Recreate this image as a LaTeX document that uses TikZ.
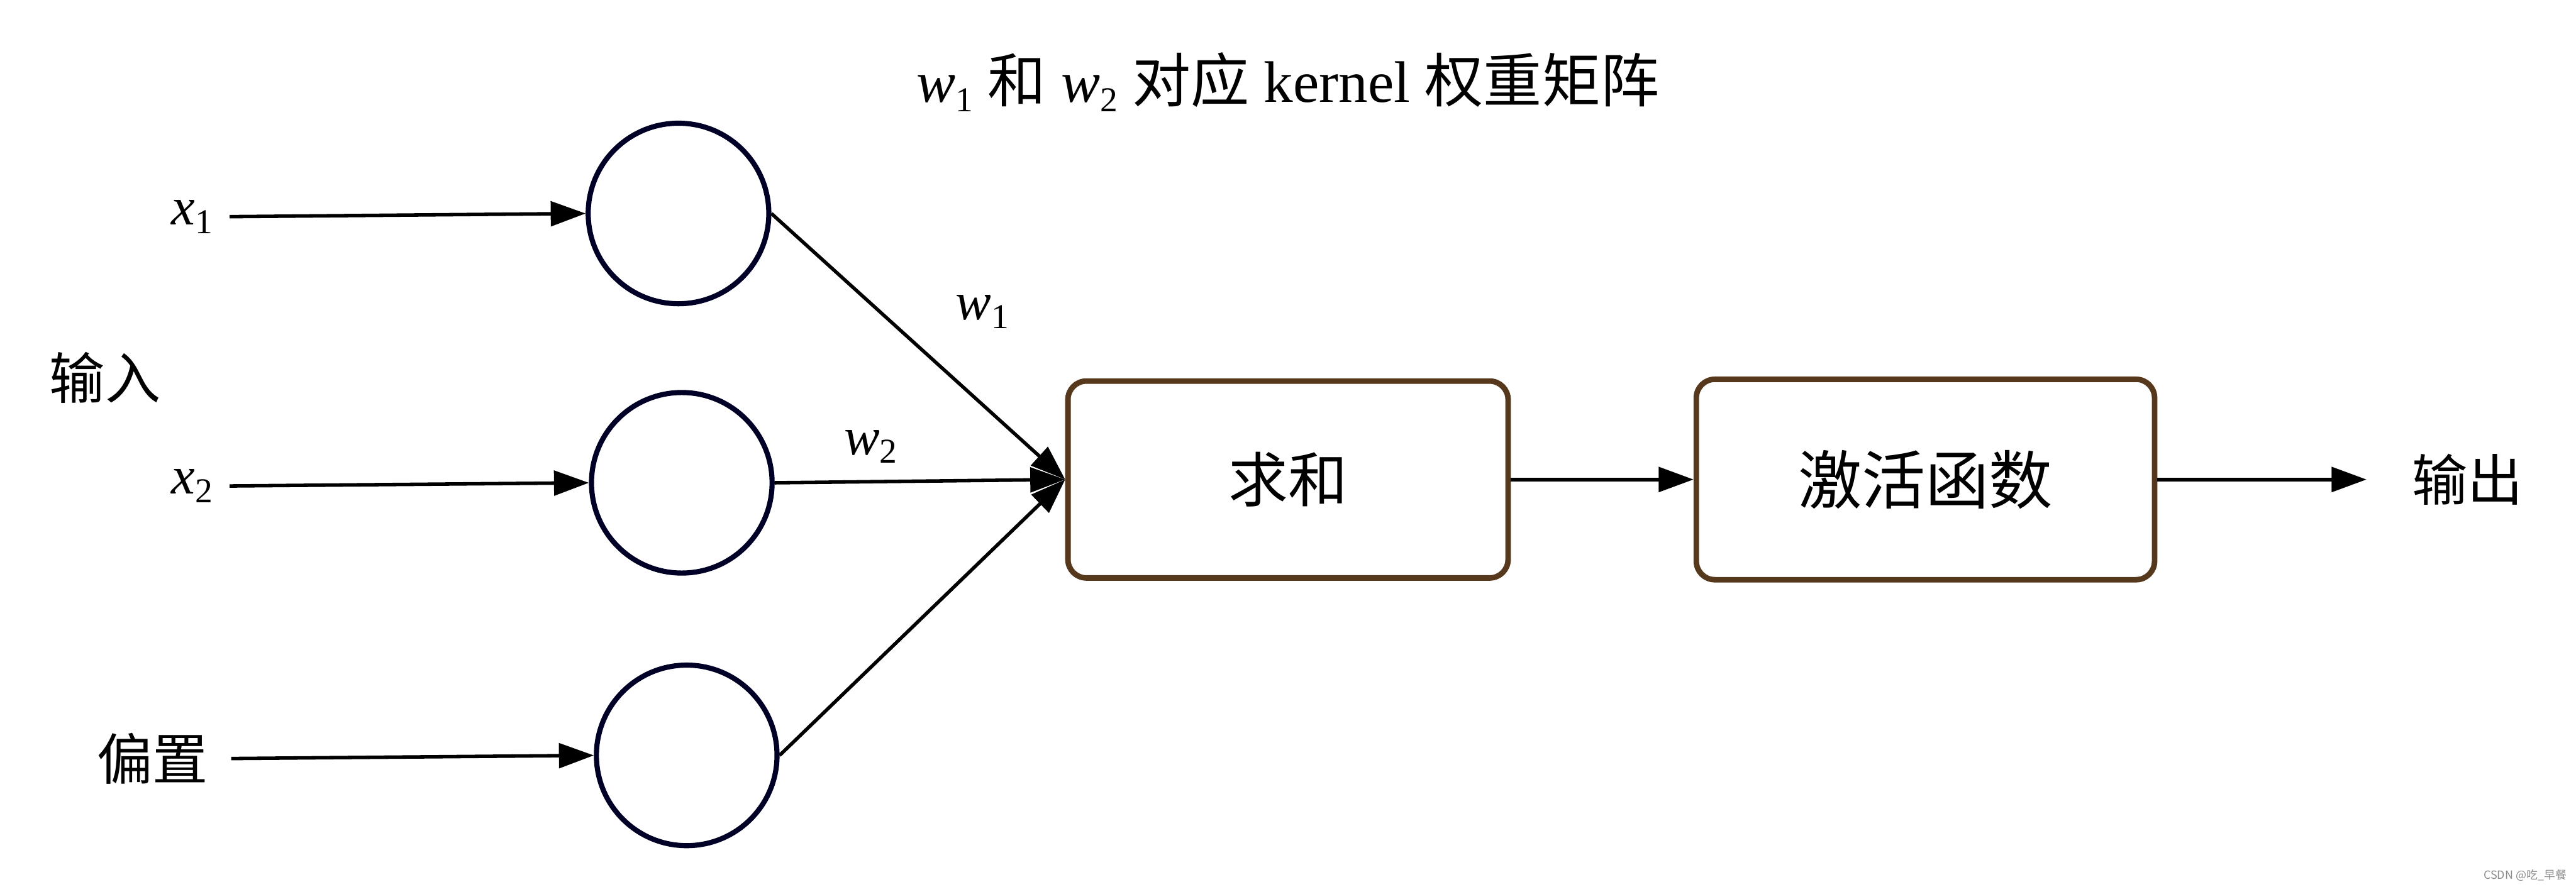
\documentclass[tikz,border=0pt]{standalone}
\usepackage{fontspec}
\setmainfont{Liberation Serif}
\newfontfamily\cjk{Noto Sans CJK SC}
\usetikzlibrary{arrows.meta}
\newcommand{\wvar}[2]{{\itshape #1}\raisebox{-0.35ex}{\fontsize{17pt}{17pt}\selectfont #2}}
\begin{document}
\begin{tikzpicture}[x=0.02811cm,y=-0.02811cm,
  neuron/.style={draw=black!85!blue, line width=2.5pt, circle, minimum size=3.09cm, inner sep=0pt},
  box/.style={draw=brown!45!black, line width=2.7pt, rounded corners=9pt, fill=white, inner sep=0pt},
  lbl/.style={inner sep=3pt, font=\fontsize{26pt}{28pt}\selectfont},
  conn/.style={line width=1.7pt, draw=black},
  arr/.style={conn, -{Triangle[length=17pt,width=12pt]}},
]
\useasboundingbox (0,0) rectangle (1568,540);
\fill[white] (0,0) rectangle (1568,540);

% title
\node[lbl, font=\fontsize{28.5pt}{30pt}\selectfont] (title) at (784,50) {\wvar{w}{1} {\cjk 和} \wvar{w}{2} {\cjk 对应} kernel {\cjk 权重矩阵}};

% input labels
\node[lbl] (x1) at (117,132) {\wvar{x}{1}};
\node[lbl] (x2) at (117,296) {\wvar{x}{2}};
\node[lbl, font=\cjk\fontsize{27pt}{28pt}\selectfont] (in) at (64,230) {输入};
\node[lbl, font=\cjk\fontsize{27pt}{28pt}\selectfont] (bias) at (93,462) {偏置};

% neurons
\node[neuron] (n1) at (413,130) {};
\node[neuron] (n2) at (415,294) {};
\node[neuron] (n3) at (418,460) {};

% boxes
\node[box, minimum width=7.53cm, minimum height=3.37cm, font=\cjk\fontsize{29pt}{30pt}\selectfont] (sum) at (784,292) {求和};
\node[box, minimum width=7.84cm, minimum height=3.43cm, font=\cjk\fontsize{31pt}{32pt}\selectfont] (act) at (1172,292) {激活函数};
\node[lbl, font=\cjk\fontsize{27pt}{28pt}\selectfont] (out) at (1502,292) {输出};

% weight labels
\node[lbl] (w1) at (598,190) {\wvar{w}{1}};
\node[lbl] (w2) at (530,272) {\wvar{w}{2}};

% arrows into neurons
\draw[arr, shorten <=5pt] (x1.east) -- (n1.west);
\draw[arr, shorten <=5pt] (x2.east) -- (n2.west);
\draw[arr, shorten <=8pt] (bias.east) -- (n3.west);

% neurons to sum
\draw[arr] (n1.east) -- (sum.west);
\draw[arr] (n3.east) -- (sum.west);
\draw[arr] (n2.east) -- (sum.west);

% sum to activation, activation to output
\draw[arr] (sum.east) -- (act.west);
\draw[arr, shorten >=19pt] (act.east) -- (out.west);

% watermark
\node[inner sep=0pt, text=black!45, font=\cjk\fontsize{5.5pt}{6pt}\selectfont] (wm) at (1537,533) {CSDN @吃\_早餐};
\end{tikzpicture}
\end{document}
